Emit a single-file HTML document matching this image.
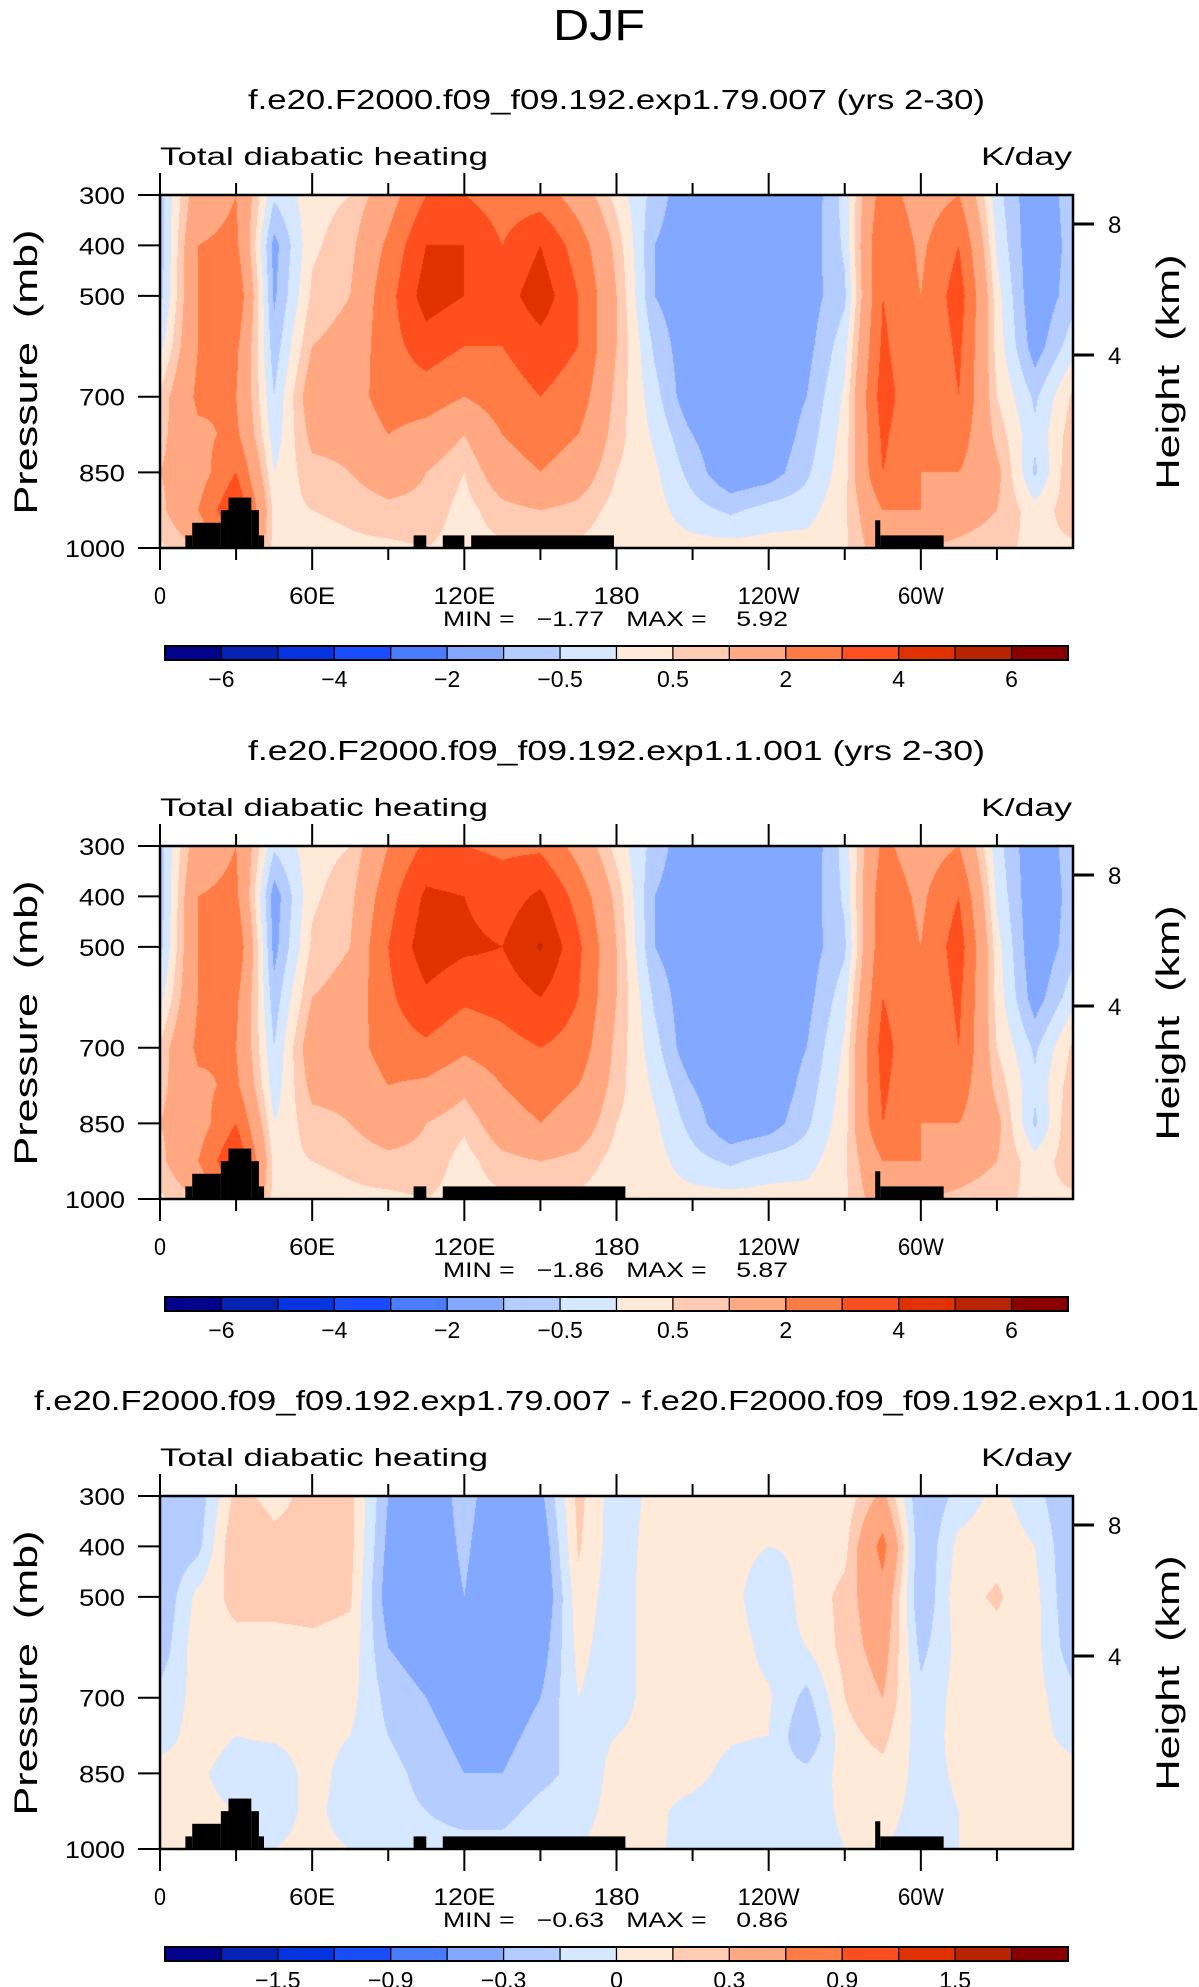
<!DOCTYPE html>
<html><head><meta charset="utf-8">
<style>
html,body{margin:0;padding:0;background:#fff;}
#wrap{position:relative;width:1199px;height:1987px;overflow:hidden;background:#fff;}
canvas{position:absolute;}
svg{position:absolute;left:0;top:0;}
text{font-family:"Liberation Sans",sans-serif;fill:#000;white-space:pre;}
</style></head>
<body>
<div id="wrap">
<canvas id="c0"></canvas>
<canvas id="c1"></canvas>
<canvas id="c2"></canvas>
<svg id="ov" width="1199" height="1987"></svg>
</div>
<script>
// ---- data ----
const lons = [0,15,30,45,60,75,90,105,120,135,150,165,180,195,210,225,240,255,270,285,300,315,330,345,360];
const plevs = [300,400,500,600,700,775,850,925,1000];
const field1 = [
[-0.7,-0.8,-0.7,-0.2,0.6,0.8,1,0.8,0.4],
[1.5,2,2,2,2.2,1.8,1.5,2,1],
[2,2.2,2.8,2.2,2,2.2,3,4,3],
[-0.4,-1.2,-1.1,-0.8,-0.5,-0.3,0,0.3,0.3],
[0.3,0.4,0.6,1,1.5,1.2,0.8,0.5,0.3],
[0.5,0.8,1,1.3,1.5,1.2,1,0.6,0.4],
[1.5,2.2,2.6,2.6,2.5,2,1.5,0.8,0.4],
[3,4,4.5,3.5,2.5,1.6,1,0.8,0.5],
[3,4,4,3,2,1,0.5,0.3,0.3],
[2.5,3,3.5,3,2.5,2,1.5,0.8,0.4],
[2.5,4,4.6,3.6,3,2.5,2,1,0.4],
[1.5,2.5,3,3,2.5,2,1.5,0.8,0.4],
[0.3,0.8,1,1,0.8,0.7,0.5,0.3,0.2],
[-0.7,-1,-1,-0.6,-0.3,-0.1,0.1,0.2,0.2],
[-1.5,-1.5,-1.5,-1.5,-1.5,-1,-0.7,-0.3,0.2],
[-1.5,-1.5,-1.5,-1.5,-1.5,-1.5,-1.5,-0.6,0.2],
[-1.5,-1.5,-1.5,-1.5,-1.5,-1.5,-1.3,-0.3,0.2],
[-1.5,-1.4,-1.3,-1.2,-1,-0.8,-0.6,-0.2,0.2],
[-0.3,-0.4,-0.6,-0.2,0.1,0.2,0.3,0.4,0.4],
[2.5,3,3,3.2,3.5,3.2,3,2,1.5],
[1.5,1.8,2,2,2,2,2,2,1],
[2,3,3.5,3.2,3,2.5,2,1.5,0.8],
[-0.3,-0.1,0.2,0.3,0.5,0.8,1.2,1,0.6],
[-1.5,-1.5,-1.5,-1.3,-0.6,-0.4,-0.6,0.2,0.4],
[-0.7,-0.8,-0.7,-0.2,0.6,0.8,1,0.8,0.4]
];
const field2 = [
[-0.7,-0.8,-0.7,-0.2,0.6,0.8,1,0.8,0.4],
[1.5,2,2,2,2.2,1.8,1.5,2,1],
[2,2.2,2.8,2.2,2,2.2,3,4,3],
[-0.4,-1.3,-1.2,-0.8,-0.5,-0.3,0,0.3,0.3],
[0.3,0.4,0.6,1,1.5,1.2,0.8,0.5,0.3],
[0.5,0.8,1,1.3,1.5,1.2,1,0.6,0.4],
[2,2.6,3,2.8,2.5,2,1.5,0.8,0.4],
[3.2,4.2,4.6,3.8,2.8,1.8,1,0.8,0.5],
[3,4,4.2,3.2,2.2,1.2,0.6,0.3,0.3],
[2.8,3.5,4,3.4,2.6,2,1.5,0.8,0.4],
[2.8,4.2,5.1,4,3,2.5,2,1,0.4],
[1.6,2.6,3.2,3,2.6,2,1.5,0.8,0.4],
[0.3,0.8,1,1,0.8,0.7,0.5,0.3,0.2],
[-0.7,-1,-1,-0.6,-0.3,-0.1,0.1,0.2,0.2],
[-1.5,-1.5,-1.5,-1.5,-1.5,-1,-0.7,-0.3,0.2],
[-1.5,-1.5,-1.5,-1.5,-1.5,-1.5,-1.5,-0.6,0.2],
[-1.5,-1.5,-1.5,-1.5,-1.5,-1.5,-1.3,-0.3,0.2],
[-1.5,-1.4,-1.3,-1.2,-1,-0.8,-0.6,-0.2,0.2],
[-0.3,-0.4,-0.6,-0.2,0.1,0.2,0.3,0.4,0.4],
[2.2,2.6,2.7,3,3.4,3.2,3,2,1.5],
[1.5,1.8,2,2,2,2,2,2,1],
[2,3,3.5,3.2,3,2.5,2,1.5,0.8],
[-0.3,-0.1,0.2,0.3,0.5,0.8,1.2,1,0.6],
[-1.5,-1.5,-1.5,-1.3,-0.6,-0.4,-0.6,0.2,0.4],
[-0.7,-0.8,-0.7,-0.2,0.6,0.8,1,0.8,0.4]
];
const field3 = [
[-0.3,-0.3,-0.3,-0.25,-0.1,-0.05,0.05,0.05,0.05],
[-0.25,-0.2,0.05,0.1,0.05,0.05,0.02,0.03,0.05],
[0.2,0.3,0.2,0.1,0.05,0,-0.05,0,0],
[0.1,0.2,0.2,0.1,0.05,0.02,-0.08,-0.05,0],
[0.2,0.2,0.2,0.12,0.08,0.05,0.05,0.03,0.03],
[0.2,0.2,0.17,0.1,0.05,0,-0.05,-0.05,0],
[-0.3,-0.35,-0.4,-0.3,-0.2,-0.15,-0.1,-0.1,-0.05],
[-0.5,-0.5,-0.5,-0.4,-0.3,-0.25,-0.2,-0.15,-0.1],
[-0.2,-0.25,-0.3,-0.35,-0.4,-0.35,-0.3,-0.2,-0.1],
[-0.5,-0.55,-0.6,-0.5,-0.4,-0.35,-0.3,-0.2,-0.1],
[-0.35,-0.45,-0.5,-0.4,-0.3,-0.25,-0.2,-0.1,-0.05],
[0.2,0.17,0.1,0.05,0,-0.05,-0.1,-0.05,0],
[-0.1,-0.1,-0.1,-0.1,-0.1,0,0.05,0.05,0.05],
[0.05,0.08,0.1,0.1,0.1,0.08,0.05,0.03,0.02],
[0.05,0.08,0.1,0.1,0.1,0.08,0.05,-0.05,-0.05],
[0.05,0.05,0.05,0.08,0.05,0.02,-0.05,-0.1,-0.05],
[0.05,0,-0.1,-0.05,0.02,0,-0.1,-0.1,-0.05],
[0.05,0.02,0.05,0,-0.2,-0.3,-0.1,-0.05,-0.05],
[0.05,0.1,0.2,0.2,0.15,0.1,0.05,0.02,0],
[0.35,0.7,0.5,0.4,0.3,0.2,0.1,0.05,0],
[-0.3,-0.3,-0.3,-0.2,-0.1,-0.08,-0.05,-0.05,-0.05],
[-0.1,0.05,0.1,0.05,0.05,0.05,0.02,0,0],
[0.05,0.1,0.17,0.1,0.05,0.05,0.05,0.05,0.05],
[-0.1,0,0.05,0.05,0.05,0.05,0.05,0.05,0.05],
[-0.3,-0.3,-0.3,-0.25,-0.1,-0.05,0.05,0.05,0.05]
];
const topo1 = [[10,12.7,975],[12.7,24,950],[24,27,925],[27,36,900],[36,39,925],[39,41,975],[100,105,975],[111.5,120,975],[122.7,179,975],[282,284,945],[284,309,975]];
const topo2 = [[10,12.7,975],[12.7,24,950],[24,27,925],[27,36,900],[36,39,925],[39,41,975],[100,105,975],[111.5,183.5,975],[282,284,945],[284,309,975]];
const topo3 = topo2;
const levels12 = [-6,-5,-4,-3,-2,-1,-0.5,0,0.5,1,2,3,4,5,6];
const levels3 = [-1.8,-1.5,-1.2,-0.9,-0.6,-0.3,-0.15,0,0.15,0.3,0.6,0.9,1.2,1.5,1.8];
const cbLabels12 = ["-6","-4","-2","-0.5","0.5","2","4","6"];
const cbLabels3 = ["-1.5","-0.9","-0.3","0","0.3","0.9","1.5"];
const lonTickLabels = ["0","60E","120E","180","120W","60W"];
const presTicks = [300,400,500,700,850,1000];
const heightTicks = [8,4];
const minmax = [["-1.77","5.92"],["-1.86","5.87"],["-0.63","0.86"]];
const titles = ["f.e20.F2000.f09_f09.192.exp1.79.007 (yrs 2-30)","f.e20.F2000.f09_f09.192.exp1.1.001 (yrs 2-30)","f.e20.F2000.f09_f09.192.exp1.79.007 - f.e20.F2000.f09_f09.192.exp1.1.001"];
const colors = ["#02028a","#0422b4","#0434e0","#1a4cff","#4a7cff","#82a8ff","#b4ccff","#d6e8ff","#ffe9d9","#ffcbb2","#ffa881","#ff7c46","#ff4f1f","#e03200","#b82400","#880000"];

// ---- layout ----
const L=160,R=1073,T0=195,H=353;
const offs=[0,651,1301];
const xOf = lon => L + (lon/360)*(R-L);
const yOf = (p,dy) => T0+dy + (p-300)/700*H;
const hY = (km,dy) => {const m={8:224,4:355};return m[km]+dy;};

function valAt(field,lon,p){
  let i=Math.min(Math.floor(lon/15),lons.length-2); let fx=(lon-lons[i])/15;
  let j=0; while(j<plevs.length-2 && p>plevs[j+1]) j++;
  let fy=(p-plevs[j])/(plevs[j+1]-plevs[j]);
  const a=field[i][j],b=field[i+1][j],c=field[i][j+1],d=field[i+1][j+1];
  return (a*(1-fx)+b*fx)*(1-fy)+(c*(1-fx)+d*fx)*fy;
}
function hex(h){return [parseInt(h.slice(1,3),16),parseInt(h.slice(3,5),16),parseInt(h.slice(5,7),16)];}
const rgb=colors.map(hex);
function drawField(id,field,levels,dy){
  const cv=document.getElementById(id);
  const W=R-L,Hh=H;
  cv.width=W;cv.height=Hh;cv.style.left=L+'px';cv.style.top=(T0+dy)+'px';
  const ctx=cv.getContext('2d');const img=ctx.createImageData(W,Hh);
  for(let y=0;y<Hh;y++){const p=300+(y+0.5)/Hh*700;
    for(let x=0;x<W;x++){const lon=(x+0.5)/W*360;const v=valAt(field,lon,p);
      let k=0;while(k<levels.length&&v>=levels[k])k++;
      const c=rgb[k];const o=(y*W+x)*4;img.data[o]=c[0];img.data[o+1]=c[1];img.data[o+2]=c[2];img.data[o+3]=255;}}
  ctx.putImageData(img,0,0);
}
drawField('c0',field1,levels12,offs[0]);
drawField('c1',field2,levels12,offs[1]);
drawField('c2',field3,levels3,offs[2]);

const svg=document.getElementById('ov');const NS='http://www.w3.org/2000/svg';
function el(tag,attrs,txt){const e=document.createElementNS(NS,tag);for(const k in attrs)e.setAttribute(k,attrs[k]);if(txt!==undefined)e.textContent=txt;svg.appendChild(e);return e;}

let t=el('text',{x:599,y:40,'font-size':44,'text-anchor':'middle',textLength:92,lengthAdjust:'spacingAndGlyphs'},'DJF');



const topos=[topo1,topo2,topo3];
const cbLabelSets=[cbLabels12,cbLabels12,cbLabels3];
offs.forEach((dy,pi)=>{
  const titleW = pi===2?1165:737;
  const tx = pi===2?34+1165/2:248+737/2;
  let e=el('text',{x:tx,y:109+dy,'font-size':28,'text-anchor':'middle',textLength:titleW,lengthAdjust:'spacingAndGlyphs'},titles[pi]);
  
  
  e=el('text',{x:160,y:165+dy,'font-size':25,textLength:328,lengthAdjust:'spacingAndGlyphs'},'Total diabatic heating');
  
  
  e=el('text',{x:1072,y:165+dy,'font-size':25,'text-anchor':'end',textLength:91,lengthAdjust:'spacingAndGlyphs'},'K/day');
  
  
  topos[pi].forEach(b=>{
    const r=el('rect',{x:xOf(b[0]),y:yOf(b[2],dy),width:xOf(b[1])-xOf(b[0]),height:yOf(1000,dy)-yOf(b[2],dy),fill:'#000'});
    
    
  });
  e=el('rect',{x:L,y:T0+dy,width:R-L,height:H,fill:'none',stroke:'#000','stroke-width':2.5});
  
  
  for(let lon=0;lon<=330;lon+=30){
    const major=lon%60===0;const len=major?22:12;const x=xOf(lon);
    el('line',{x1:x,x2:x,y1:T0+dy,y2:T0+dy-len,stroke:'#000','stroke-width':2});
    el('line',{x1:x,x2:x,y1:T0+H+dy,y2:T0+H+dy+len,stroke:'#000','stroke-width':2});
  }
  lonTickLabels.forEach((lab,i)=>{
    const w=[12,46,62,46,62,46][i];
    const e2=el('text',{x:xOf(i*60),y:604+dy,'font-size':24,'text-anchor':'middle',textLength:w,lengthAdjust:'spacingAndGlyphs'},lab);
    
    
  });
  presTicks.forEach(p=>{
    const y=yOf(p,dy);
    el('line',{x1:L,x2:L-22,y1:y,y2:y,stroke:'#000','stroke-width':2});
    const e2=el('text',{x:125,y:y+9,'font-size':24,'text-anchor':'end',textLength:p===1000?60:46,lengthAdjust:'spacingAndGlyphs'},String(p));
    
    
  });
  heightTicks.forEach(k=>{
    const y=hY(k,dy);
    el('line',{x1:R,x2:R+21,y1:y,y2:y,stroke:'#000','stroke-width':3});
    const e2=el('text',{x:1108,y:y+9,'font-size':24,'text-anchor':'start'},String(k));
    
    
  });
  e=el('text',{x:0,y:0,'font-size':32,'text-anchor':'middle',transform:`translate(37,${372+dy}) rotate(-90)`,textLength:285,lengthAdjust:'spacingAndGlyphs'},'Pressure  (mb)');
  
  
  e=el('text',{x:0,y:0,'font-size':32,'text-anchor':'middle',transform:`translate(1179,${372+dy}) rotate(-90)`,textLength:235,lengthAdjust:'spacingAndGlyphs'},'Height  (km)');
  
  
  e=el('text',{x:443,y:626+dy,'font-size':21,textLength:345,lengthAdjust:'spacingAndGlyphs'},`MIN =   ${minmax[pi][0].replace('-','\u2212')}   MAX =    ${minmax[pi][1]}`);
  
  
  const cx0=165,cx1=1068,cw=(cx1-cx0)/16,cy=646+dy;
  colors.forEach((c,i)=>{
    const r=el('rect',{x:cx0+i*cw,y:cy,width:cw,height:14,fill:c,stroke:'#000','stroke-width':1.2});
    
    
  });
  el('rect',{x:cx0,y:cy,width:cx1-cx0,height:14,fill:'none',stroke:'#000','stroke-width':2});
  const labs=cbLabelSets[pi];const start=pi===2?2:1;
  labs.forEach((lab,i)=>{
    const e2=el('text',{x:cx0+(start+2*i)*cw,y:687+dy,'font-size':23,'text-anchor':'middle'},lab.replace('-','\u2212'));
    
    
  });
});
</script>
</body></html>
